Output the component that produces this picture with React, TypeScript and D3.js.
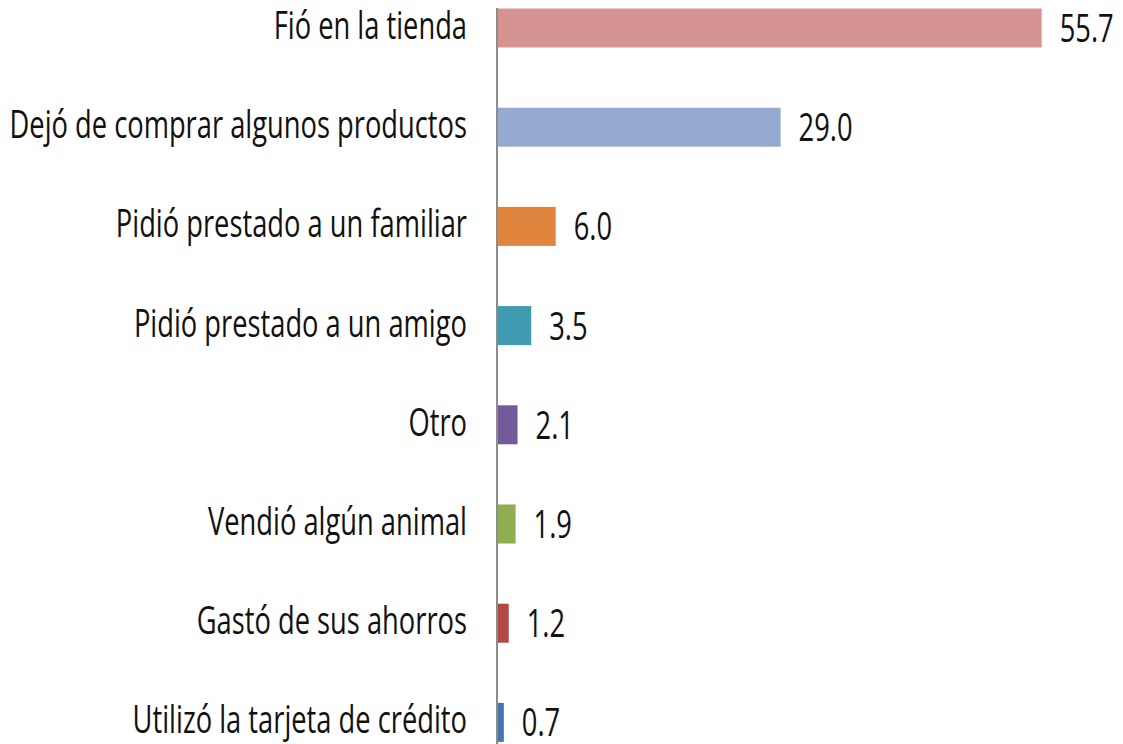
import React from "react";
import * as d3 from "d3";

const categories = [
  "Fió en la tienda",
  "Dejó de comprar algunos productos",
  "Pidió prestado a un familiar",
  "Pidió prestado a un amigo",
  "Otro",
  "Vendió algún animal",
  "Gastó de sus ahorros",
  "Utilizó la tarjeta de crédito",
];
const values = [55.7, 29.0, 6.0, 3.5, 2.1, 1.9, 1.2, 0.7];
const colors = [
  "#d59392",
  "#95a9d1",
  "#df853e",
  "#3e9bb1",
  "#735a99",
  "#90ad52",
  "#b14a47",
  "#4477b0",
];

const width = 1123;
const height = 744;
const axisX = 497;
const barH = 39;
const sx = 0.7; // squeeze the text horizontally (Calibri-like look)

const App = () => {
  const x = d3.scaleLinear().domain([0, 55.7]).range([axisX, 1041.7]);
  const y = d3.scalePoint().domain(categories).range([28, 722.4]);

  const font = "'Open Sans', 'DejaVu Sans', sans-serif";

  return (
    <svg
      width={width}
      height={height}
      style={{ position: "absolute", left: 0, top: 0, background: "#fff" }}
    >
      {/* bars */}
      {categories.map((c, i) => (
        <rect
          key={c}
          x={x(0)}
          y={(y(c) as number) - barH / 2}
          width={x(values[i]) - x(0)}
          height={barH}
          fill={colors[i]}
        />
      ))}

      {/* category axis line */}
      <line x1={axisX} x2={axisX} y1={8} y2={height} stroke="#8c8c8c" strokeWidth={2} />

      {/* category labels */}
      {categories.map((c) => (
        <text
          key={"l" + c}
          transform={`translate(${axisX - 30},${(y(c) as number) + 11}) scale(${sx},1)`}
          textAnchor="end"
          fontFamily={font}
          fontSize={39}
          fill="#111"
        >
          {c}
        </text>
      ))}

      {/* value labels */}
      {categories.map((c, i) => (
        <text
          key={"v" + c}
          transform={`translate(${x(values[i]) + 18},${(y(c) as number) + 14}) scale(${sx},1)`}
          fontFamily={font}
          fontSize={39}
          fill="#111"
        >
          {values[i].toFixed(1)}
        </text>
      ))}
    </svg>
  );
};

export default App;
